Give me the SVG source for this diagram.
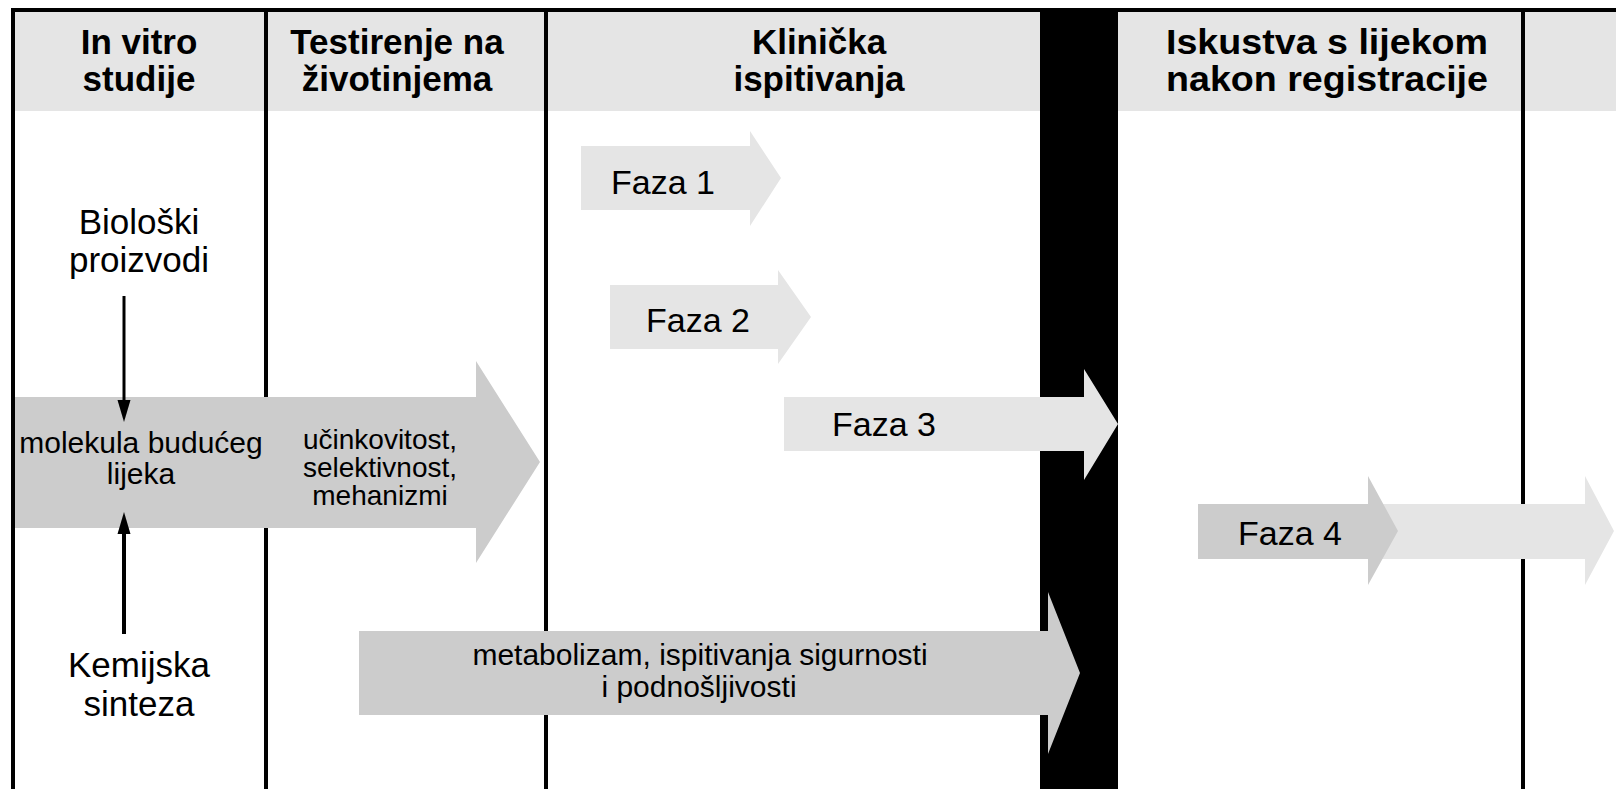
<svg xmlns="http://www.w3.org/2000/svg" width="1616" height="789" viewBox="0 0 1616 789">
<style>
.hdr{fill:#e5e5e5}
.rule{fill:#000}
.ht{font-family:"Liberation Sans",Arial,sans-serif;font-weight:bold;font-size:35px;fill:#000;text-anchor:middle}
.bt{font-family:"Liberation Sans",Arial,sans-serif;font-size:35px;fill:#000;text-anchor:middle}
.st{font-family:"Liberation Sans",Arial,sans-serif;font-size:28px;fill:#000;text-anchor:middle}
.mt{font-family:"Liberation Sans",Arial,sans-serif;font-size:30px;fill:#000;text-anchor:middle}
.ft{font-family:"Liberation Sans",Arial,sans-serif;font-size:34px;fill:#000;text-anchor:middle}
.dark{fill:#cccccc}
.light{fill:#e5e5e5}
.conn{stroke:#000;fill:none}
</style>
<defs>
<marker id="ah" markerUnits="userSpaceOnUse" markerWidth="22" markerHeight="14" refX="5" refY="7" orient="auto">
<path d="M0,0.5 L22,7 L0,13.5 z" fill="#000"/>
</marker>
</defs>
<rect width="1616" height="789" fill="#fff"/>
<g id="header">
<rect class="hdr" x="15" y="12" width="249" height="99"/>
<rect class="hdr" x="268" y="12" width="276" height="99"/>
<rect class="hdr" x="548" y="12" width="492" height="99"/>
<rect class="hdr" x="1118" y="12" width="403" height="99"/>
<rect class="hdr" x="1525" y="12" width="91" height="99"/>
</g>
<g id="grid">
<rect class="rule" x="264" y="8" width="4" height="781"/>
<rect class="rule" x="544" y="8" width="4" height="781"/>
<rect class="rule" x="1040" y="8" width="78" height="781"/>
<rect class="rule" x="1521" y="8" width="4" height="781"/>
</g>
<g id="col-invitro"><text class="ht" x="139" y="54">In vitro</text><text class="ht" x="139" y="91">studije</text></g>
<g id="col-zivotinje"><text class="ht" x="397" y="54">Testirenje na</text><text class="ht" x="397" y="91">životinjema</text></g>
<g id="col-klinicka"><text class="ht" x="819" y="54">Klinička</text><text class="ht" x="819" y="91">ispitivanja</text></g>
<g id="col-iskustva"><text class="ht" x="1327" y="54" textLength="322" lengthAdjust="spacingAndGlyphs">Iskustva s lijekom</text><text class="ht" x="1327" y="91" textLength="322" lengthAdjust="spacingAndGlyphs">nakon registracije</text></g>
<g id="bioloski"><text class="bt" x="139" y="234">Biološki</text><text class="bt" x="139" y="272">proizvodi</text></g>
<g id="kemijska"><text class="bt" x="139" y="677">Kemijska</text><text class="bt" x="139" y="716">sinteza</text></g>
<g id="molekula">
<polygon class="dark" points="15,397 476,397 476,361 540,462 476,563 476,528 15,528"/>
<text class="st" x="141" y="453" style="font-size:30px">molekula budućeg</text><text class="st" x="141" y="484" style="font-size:30px">lijeka</text>
<text class="st" x="380" y="449">učinkovitost,</text><text class="st" x="380" y="477">selektivnost,</text><text class="st" x="380" y="505">mehanizmi</text>
</g>
<g id="metabolizam">
<polygon class="dark" points="359,631 1048,631 1048,592 1080,673 1048,754 1048,715 359,715"/>
<text class="mt" x="700" y="665">metabolizam, ispitivanja sigurnosti</text><text class="mt" x="699" y="697">i podnošljivosti</text>
</g>
<g id="faza1">
<polygon class="light" points="581,146 750,146 750,131 781,178 750,226 750,210 581,210"/>
<text class="ft" x="663" y="194">Faza 1</text>
</g>
<g id="faza2">
<polygon class="light" points="610,285 778,285 778,270 811,317 778,364 778,349 610,349"/>
<text class="ft" x="698" y="332">Faza 2</text>
</g>
<g id="faza3">
<polygon class="light" points="784,397 1084,397 1084,369 1118,424 1084,480 1084,451 784,451"/>
<text class="ft" x="884" y="436">Faza 3</text>
</g>
<g id="faza4">
<polygon class="light" points="1360,504 1585,504 1585,476 1614,531 1585,585 1585,559 1360,559"/>
<polygon class="dark" points="1198,504 1368,504 1368,476 1398,531 1368,585 1368,559 1198,559"/>
<text class="ft" x="1290" y="545">Faza 4</text>
</g>
<g id="frame">
<rect class="rule" x="11" y="8" width="4" height="781"/>
<rect class="rule" x="11" y="8" width="1605" height="4"/>
</g>
<g id="connectors">
<line class="conn" x1="124" y1="296" x2="124" y2="405" stroke-width="3" marker-end="url(#ah)"/>
<line class="conn" x1="124" y1="634" x2="124" y2="529" stroke-width="4" marker-end="url(#ah)"/>
</g>
</svg>
